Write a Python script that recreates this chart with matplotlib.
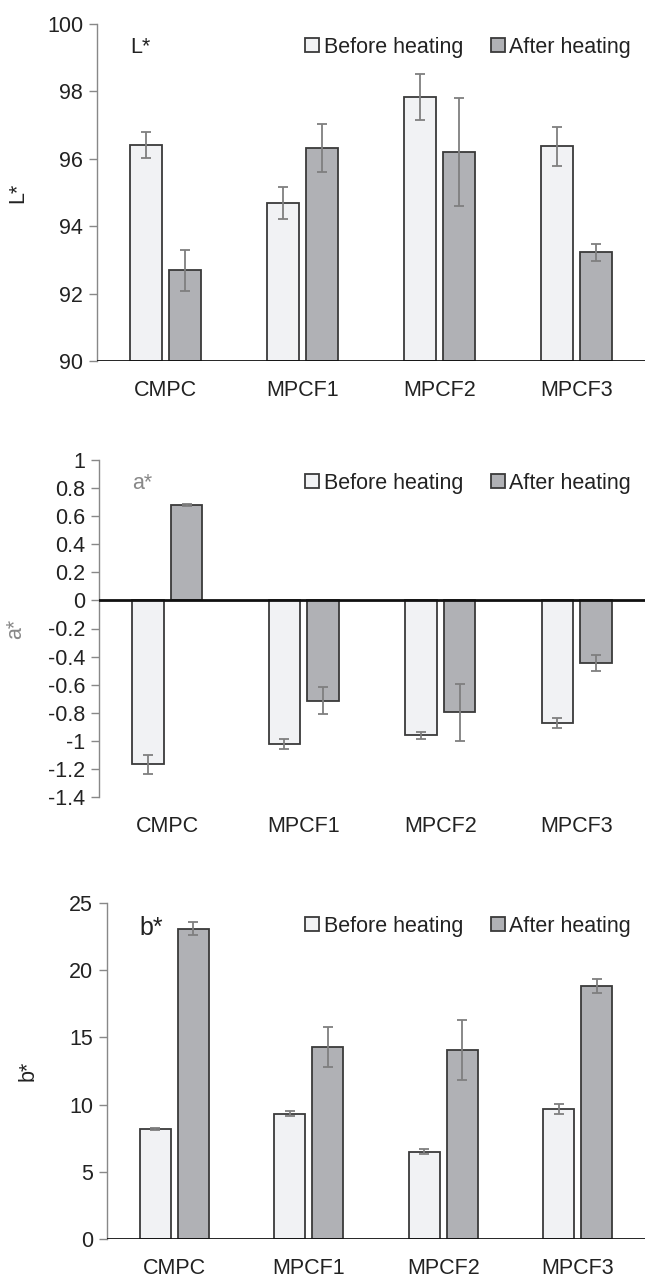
import numpy as np
import matplotlib
matplotlib.use("Agg")
import matplotlib.pyplot as plt
from matplotlib.ticker import FuncFormatter

plt.rcParams['font.family'] = ['Liberation Sans', 'DejaVu Sans']
plt.rcParams['axes.unicode_minus'] = False

samples = ['CMPC', 'MPCF1', 'MPCF2', 'MPCF3']
series = ['Before heating', 'After heating']

L_before = [96.41, 94.68, 97.83, 96.37]
L_before_err = [0.39, 0.48, 0.68, 0.58]
L_after = [92.69, 96.32, 96.20, 93.22]
L_after_err = [0.61, 0.70, 1.60, 0.25]

a_before = [-1.167, -1.024, -0.960, -0.872]
a_before_err = [0.067, 0.035, 0.024, 0.035]
a_after = [0.677, -0.713, -0.796, -0.449]
a_after_err = [0.008, 0.093, 0.204, 0.057]

b_before = [8.17, 9.33, 6.51, 9.68]
b_before_err = [0.06, 0.2, 0.16, 0.35]
b_after = [23.09, 14.28, 14.06, 18.84]
b_after_err = [0.5, 1.5, 2.23, 0.5]

c_before = '#f1f2f4'
c_after = '#b0b1b5'
c_edge = '#3a3a3a'
c_err = '#7f7f7f'
fs = 15.5

W, H = 645, 1277
fig = plt.figure(figsize=(W / 100, H / 100), dpi=100)


def px_axes(left, top, right, bottom):
    return fig.add_axes([left / W, 1 - bottom / H, (right - left) / W, (bottom - top) / H])


def fmt_num(v, p):
    v = round(v, 1) + 0.0
    return '%g' % v


def draw(ax, before, before_err, after, after_err, ylim, yticks, ylabel,
         label, label_color, label_size, base, ylab_x):
    x = np.arange(len(samples))
    w = 0.23
    off = 0.142
    ekw = dict(ecolor=c_err, elinewidth=1.3, capsize=3.5, capthick=1.3)
    ax.bar(x - off, np.array(before) - base, w, bottom=base, color=c_before,
           edgecolor=c_edge, linewidth=1.3, yerr=before_err, error_kw=ekw,
           label=series[0], zorder=2)
    ax.bar(x + off, np.array(after) - base, w, bottom=base, color=c_after,
           edgecolor=c_edge, linewidth=1.3, yerr=after_err, error_kw=ekw,
           label=series[1], zorder=2)
    ax.set_xlim(-0.5, 3.5)
    ax.set_ylim(*ylim)
    ax.set_yticks(yticks)
    ax.yaxis.set_major_formatter(FuncFormatter(fmt_num))
    ax.set_xticks(x)
    ax.set_xticklabels(samples)
    for s in ['top', 'right', 'bottom']:
        ax.spines[s].set_visible(False)
    ax.spines['left'].set_color('#888888')
    ax.spines['left'].set_linewidth(1.0)
    ax.axhline(base, color='#111111', linewidth=2.0, zorder=3)
    ax.tick_params(axis='y', direction='out', length=6, width=1.0, color='#888888',
                   labelsize=fs, labelcolor='#222222', pad=4)
    ax.tick_params(axis='x', length=0, labelsize=fs, labelcolor='#222222', pad=13.5)
    ax.set_ylabel(ylabel, fontsize=fs, color=label_color)
    ax.yaxis.set_label_coords(ylab_x, 0.5)
    ax.text(0.06, 0.96, label, transform=ax.transAxes, fontsize=label_size,
            color=label_color, va='top', ha='left')
    ax.legend(loc='upper right', bbox_to_anchor=(1.01, 1.02), frameon=False, ncol=2,
              fontsize=fs, handlelength=0.65, handleheight=0.65, handletextpad=0.2,
              columnspacing=1.3, labelcolor='#222222')


ax1 = px_axes(97, 24, 645, 361)
draw(ax1, L_before, L_before_err, L_after, L_after_err, (90, 100),
     np.arange(90, 101, 2), 'L*', 'L*', '#222222', fs, 90, -0.126)

ax2 = px_axes(99, 460, 645, 797)
draw(ax2, a_before, a_before_err, a_after, a_after_err, (-1.4, 1.0),
     np.round(np.arange(-1.4, 1.01, 0.2), 1), 'a*', 'a*', '#888888', fs, 0, -0.134)

ax3 = px_axes(107, 903, 645, 1239)
draw(ax3, b_before, b_before_err, b_after, b_after_err, (0, 25),
     np.arange(0, 26, 5), 'b*', 'b*', '#222222', 18, 0, -0.128)

fig.savefig('out.png', dpi=100)
